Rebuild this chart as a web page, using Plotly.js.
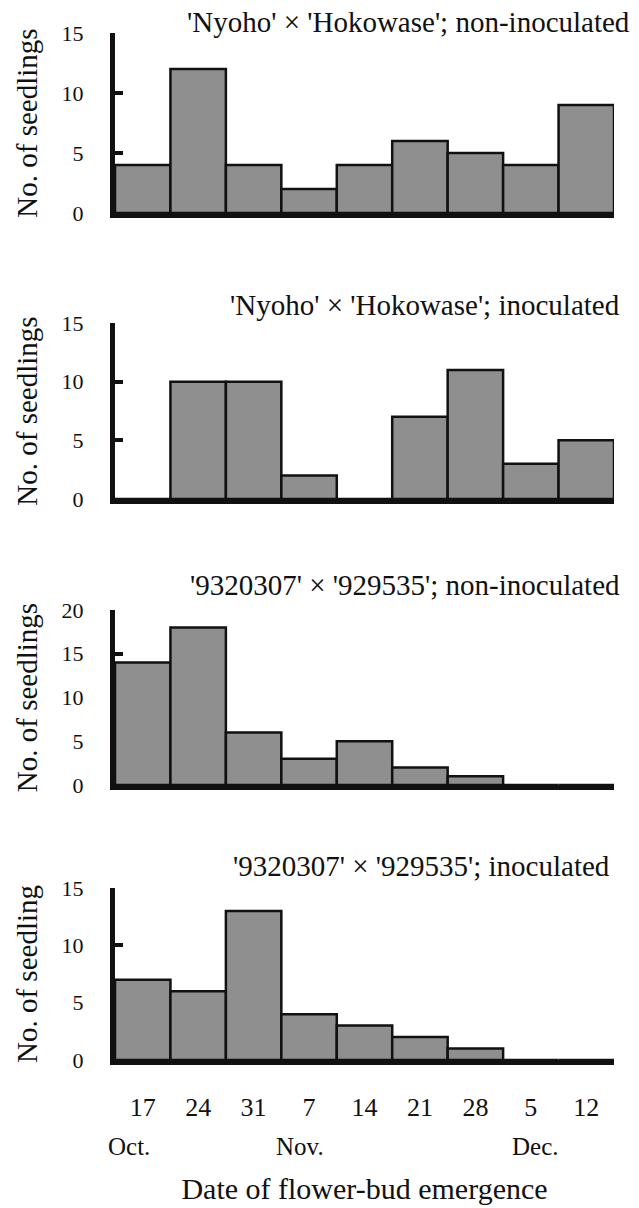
<!DOCTYPE html>
<html>
<head>
<meta charset="utf-8">
<script src="https://cdn.plot.ly/plotly-3.0.1.min.js"></script>
<style>
  html, body { margin: 0; padding: 0; background: #ffffff; }
  #chart { width: 639px; height: 1208px; }
</style>
</head>
<body>
<div id="chart"></div>
<script>
// Weekly bins of flower-bud emergence date (Oct. 17 – Dec. 12)
const dateLabels = ['17', '24', '31', '7', '14', '21', '28', '5', '12'];
const monthLabels = ['Oct.', 'Nov.', 'Dec.'];
const monthPos = [-0.25, 2.84, 7.08];

// Number of seedlings per weekly bin
const nyohoNonInoculated = [4, 12, 4, 2, 4, 6, 5, 4, 9];
const nyohoInoculated = [0, 10, 10, 2, 0, 7, 11, 3, 5];
const line9320307NonInoculated = [14, 18, 6, 3, 5, 2, 1, 0, 0];
const line9320307Inoculated = [7, 6, 13, 4, 3, 2, 1, 0, 0];

const panelTitles = [
  "'Nyoho' × 'Hokowase'; non-inoculated",
  "'Nyoho' × 'Hokowase'; inoculated",
  "'9320307' × '929535'; non-inoculated",
  "'9320307' × '929535'; inoculated"
];
const yTitles = ['No. of seedlings', 'No. of seedlings', 'No. of seedlings', 'No. of seedling'];
const yMax = [15, 15, 20, 15];

const W = 639, H = 1208;
const FONT = 'Liberation Serif';
const INK = '#111111';
const px = v => v / W;           // horizontal pixel -> paper
const py = v => 1 - v / H;       // vertical pixel -> paper

// Panel frames in pixels: [top, bottom] of the plotting area
const frames = [[33, 213], [323, 499], [610, 785], [888, 1060]];
const titlePos = [[632, 22], [622, 305], [622, 585], [612, 866]];
const xDomain = [px(115), px(614)];

const series = [nyohoNonInoculated, nyohoInoculated, line9320307NonInoculated, line9320307Inoculated];
const idx = dateLabels.map((_, i) => i);

const traces = series.map((vals, k) => ({
  type: 'bar',
  x: idx,
  y: vals,
  xaxis: k === 0 ? 'x' : 'x' + (k + 1),
  yaxis: k === 0 ? 'y' : 'y' + (k + 1),
  marker: { color: '#8f8f8f', line: { color: INK, width: 2.5 } },
  hoverinfo: 'skip'
}));

const layout = {
  width: W, height: H,
  margin: { l: 0, r: 0, t: 0, b: 0 },
  paper_bgcolor: '#ffffff',
  plot_bgcolor: 'rgba(0,0,0,0)',
  showlegend: false,
  bargap: 0,
  font: { family: FONT, color: INK },
  annotations: []
};

frames.forEach((f, k) => {
  const s = k === 0 ? '' : String(k + 1);
  const isBottom = k === 3;
  layout['xaxis' + s] = {
    domain: xDomain,
    anchor: 'y' + s,
    range: [-0.5, 8.5],
    showline: true, linecolor: INK, linewidth: 5,
    showgrid: false, zeroline: false,
    ticks: '',
    tickmode: 'array',
    tickvals: idx,
    ticktext: dateLabels,
    showticklabels: isBottom,
    ticklabelstandoff: 20,
    tickfont: { family: FONT, size: 26, color: INK },
    layer: 'below traces',
    fixedrange: true,
    title: isBottom ? {
      text: 'Date of flower-bud emergence',
      font: { family: FONT, size: 30, color: INK },
      standoff: 58
    } : { text: '' }
  };
  const tv = [];
  for (let v = 0; v <= yMax[k]; v += 5) tv.push(v);
  layout['yaxis' + s] = {
    domain: [py(f[1]), py(f[0])],
    anchor: 'x' + s,
    range: [0, yMax[k]],
    showline: true, linecolor: INK, linewidth: 5,
    showgrid: false, zeroline: false,
    ticks: 'inside', ticklen: 8, tickwidth: 4, tickcolor: INK,
    tickmode: 'array', tickvals: tv,
    ticklabelstandoff: 22,
    tickfont: { family: FONT, size: 22, color: INK },
    layer: 'below traces',
    fixedrange: true,
    title: {
      text: yTitles[k],
      font: { family: FONT, size: 29, color: INK },
      standoff: 17
    }
  };
  layout.annotations.push({
    xref: 'paper', yref: 'paper',
    x: px(titlePos[k][0]), y: py(titlePos[k][1]),
    xanchor: 'right', yanchor: 'middle',
    text: panelTitles[k], showarrow: false,
    font: { family: FONT, size: 29, color: INK }
  });
});

monthLabels.forEach((m, i) => {
  layout.annotations.push({
    xref: 'x4', yref: 'paper',
    x: monthPos[i], y: py(1146),
    xanchor: 'center', yanchor: 'middle',
    text: m, showarrow: false,
    font: { family: FONT, size: 25, color: INK }
  });
});

Plotly.newPlot('chart', traces, layout, { displayModeBar: false, staticPlot: true });
</script>
</body>
</html>
